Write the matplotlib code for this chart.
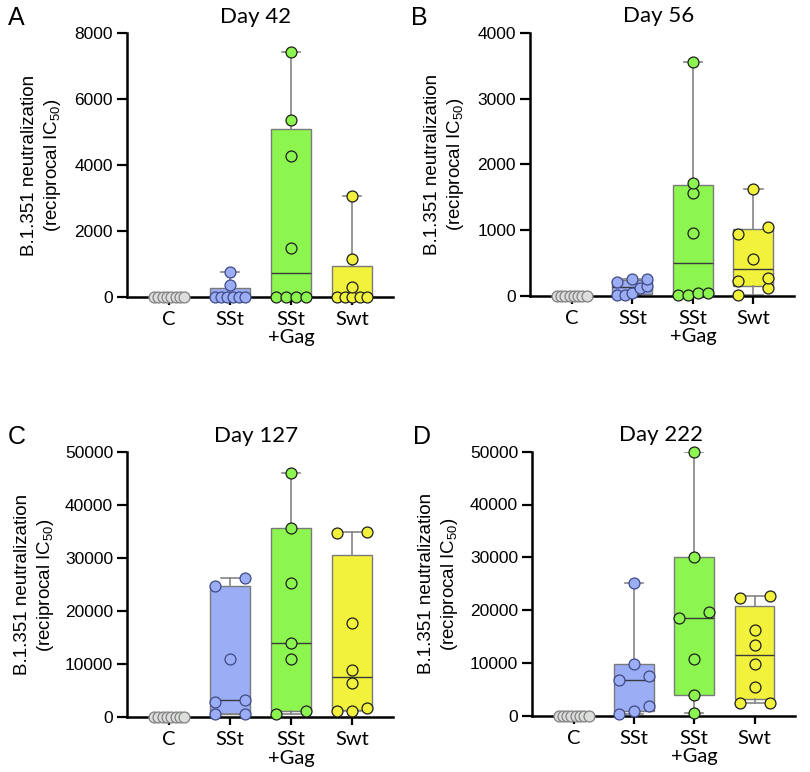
import numpy as np
import matplotlib.pyplot as plt

plt.rcParams['mathtext.fontset'] = 'custom'
plt.rcParams['mathtext.rm'] = 'Liberation Sans'
plt.rcParams['mathtext.it'] = 'Liberation Sans:italic'

groups = ['C', 'SSt', 'SSt\n+Gag', 'Swt']

# reciprocal IC50 per animal
day42_C = [0, 0, 0, 0, 0, 0, 0, 0]
day42_SSt = [0, 0, 0, 0, 0, 0, 350, 740]
day42_Gag = [0, 0, 0, 0, 1470, 4270, 5370, 7420]
day42_Swt = [0, 0, 0, 0, 0, 300, 1150, 3050]

day56_C = [0, 0, 0, 0, 0, 0, 0, 0]
day56_SSt = [15, 15, 50, 117, 152, 217, 253, 253]
day56_Gag = [15, 20, 40, 50, 960, 1560, 1720, 3550]
day56_Swt = [15, 117, 232, 269, 557, 942, 1053, 1630]

day127_C = [0, 0, 0, 0, 0, 0, 0, 0]
day127_SSt = [560, 600, 2950, 3260, 10940, 24830, 26340]
day127_Gag = [620, 1190, 10940, 13960, 25280, 35780, 46160]
day127_Swt = [1250, 1250, 1700, 6420, 8930, 17740, 34840, 35030]

day222_C = [0, 0, 0, 0, 0, 0, 0, 0]
day222_SSt = [320, 950, 1840, 6760, 7520, 9790, 25190]
day222_Gag = [570, 3920, 10680, 18560, 19700, 30120, 49880]
day222_Swt = [2350, 2460, 5380, 9790, 13390, 16230, 22230, 22730]

fills = ['#dcdedc', '#9badf5', '#8cf550', '#f2f23c']
edges = ['#808080', '#3f4a85', '#1e1e1e', '#1e1e1e']

W, H = 810, 772
fig = plt.figure(figsize=(W / 100, H / 100), dpi=100)

# panel: letter, title, data, ymax, ystep, axes box in px (left, top, right, bottom), label shift
panels = [
    ('A', 'Day 42', [day42_C, day42_SSt, day42_Gag, day42_Swt], 8000, 2000, (127, 33.3, 393, 296.7), 85),
    ('B', 'Day 56', [day56_C, day56_SSt, day56_Gag, day56_Swt], 4000, 1000, (530, 32.7, 794, 296), 85),
    ('C', 'Day 127', [day127_C, day127_SSt, day127_Gag, day127_Swt], 50000, 10000, (127, 452.3, 393, 717.3), 92),
    ('D', 'Day 222', [day222_C, day222_SSt, day222_Gag, day222_Swt], 50000, 10000, (532, 451.7, 795, 715.7), 93),
]

xlim = (-0.69, 3.67)


def swarm(vals, px_y, px_x, thresh=9.5, span=15):
    # points closer than about one marker get spread side by side
    vals = np.asarray(vals, float)
    order = np.argsort(vals, kind='stable')
    offs = np.zeros(len(vals))
    clusters = []
    for i in order:
        if clusters and (vals[i] - vals[clusters[-1][0]]) * px_y < thresh:
            clusters[-1].append(i)
        else:
            clusters.append([i])
    for cl in clusters:
        if len(cl) > 1:
            offs[cl] = np.linspace(-span, span, len(cl)) / px_x
    return offs


for letter, title, data, ymax, ystep, (l, t, r, b), lab in panels:
    ax = fig.add_axes([l / W, 1 - b / H, (r - l) / W, (b - t) / H])
    ax.set_xlim(*xlim)
    ax.set_ylim(0, ymax)
    px_y = (b - t) / ymax
    px_x = (r - l) / (xlim[1] - xlim[0])

    stats = []
    for v in data:
        q1, med, q3 = np.percentile(v, [25, 50, 75], method='weibull')
        stats.append(dict(med=med, q1=q1, q3=q3, whislo=min(v), whishi=max(v), fliers=[]))
    bp = ax.bxp(stats, positions=range(4), widths=0.66, patch_artist=True,
                showfliers=False, capwidths=0.3,
                boxprops=dict(edgecolor='#7a7a7a', linewidth=1.0),
                medianprops=dict(color='#3a3a3a', linewidth=1.0),
                whiskerprops=dict(color='#858585', linewidth=1.2),
                capprops=dict(color='#858585', linewidth=1.2))
    for patch, fc in zip(bp['boxes'], fills):
        patch.set_facecolor(fc)

    for i, v in enumerate(data):
        xs = i + swarm(v, px_y, px_x)
        ax.scatter(xs, v, s=62, facecolor=fills[i], edgecolor=edges[i],
                   linewidth=0.9, zorder=4, clip_on=False)

    for side in ['top', 'right']:
        ax.spines[side].set_visible(False)
    for side in ['left', 'bottom']:
        ax.spines[side].set_linewidth(1.8)
    ax.set_xticks(range(4))
    ax.set_xticklabels(groups, fontfamily='Lato', fontsize=14.5, linespacing=1.1)
    ax.set_yticks(np.arange(0, ymax + 1, ystep))
    ax.set_yticklabels([str(int(y)) for y in np.arange(0, ymax + 1, ystep)],
                       fontfamily='Liberation Sans', fontsize=12.5)
    ax.tick_params(axis='y', length=7, width=1.6, pad=3)
    ax.tick_params(axis='x', length=6, width=1.6, pad=4)

    fig.text((l - lab) / W, 1 - (t + b) / 2 / H,
             'B.1.351 neutralization\n(reciprocal IC$_{50}$)',
             rotation=90, ha='center', va='center', multialignment='center',
             fontfamily='Liberation Sans', fontsize=13.5, linespacing=1.25)
    fig.text((l - 119) / W, 1 - (t - 8) / H, letter, fontfamily='Liberation Sans',
             fontsize=18, va='baseline')
    fig.text((l + 129) / W, 1 - (t - 10.6) / H, title, fontfamily='Lato',
             fontsize=16, ha='center', va='baseline')

fig.savefig('out.png', dpi=100)
